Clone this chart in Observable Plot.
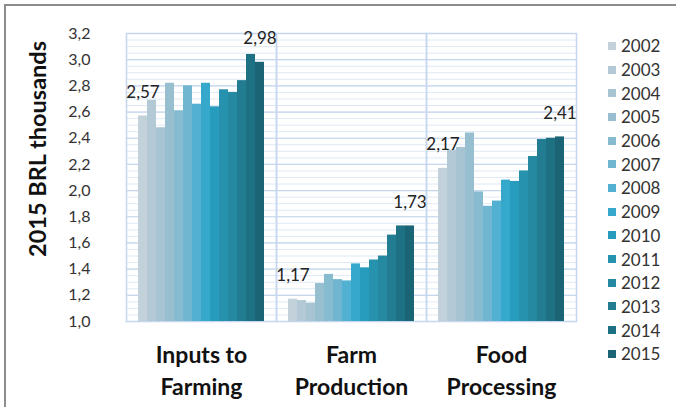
<!DOCTYPE html>
<html>
<head>
<meta charset="utf-8">
<script src="https://cdn.jsdelivr.net/npm/d3@7"></script>
<script src="https://cdn.jsdelivr.net/npm/@observablehq/plot@0.6"></script>
<style>
  body { margin: 0; background: #fff; }
  #chart { position: relative; width: 676px; height: 407px; overflow: hidden; font-family: Lato, "Open Sans", sans-serif; background: #fff; }
  #chart svg { position: absolute; left: 0; top: 0; }
  #border { position: absolute; left: 4px; top: 4px; width: 700px; height: 420px; border-top: 2px solid #8c8c8c; border-left: 2px solid #8c8c8c; pointer-events: none; }
  #ytitle { position: absolute; left: 37px; top: 149px; transform: translate(-50%, -50%) rotate(-90deg); white-space: nowrap; font-weight: bold; font-size: 23.5px; color: #111; }
  #legend { position: absolute; left: 608px; top: 34px; font-size: 17px; color: #333; }
  #legend .row { display: flex; align-items: center; height: 23.7px; }
  #legend .sw { width: 8px; height: 8px; margin-right: 5px; }
</style>
</head>
<body>
<div id="chart">
  <div id="ytitle">2015 BRL thousands</div>
  <div id="legend"></div>
  <div id="border"></div>
</div>
<script>
// Sectors and their two-line captions under each group
const sectors = ["Inputs to Farming", "Farm Production", "Food Processing"];
const sectorCaptions = ["Inputs to\nFarming", "Farm\nProduction", "Food\nProcessing"];

// Years (one bar per year inside each sector)
const years = ["2002", "2003", "2004", "2005", "2006", "2007", "2008",
               "2009", "2010", "2011", "2012", "2013", "2014", "2015"];

// Values, 2015 BRL thousands
const inputsToFarming = [2.57, 2.69, 2.48, 2.82, 2.61, 2.80, 2.66, 2.82, 2.64, 2.77, 2.75, 2.84, 3.04, 2.98];
const farmProduction  = [1.17, 1.16, 1.14, 1.29, 1.36, 1.32, 1.31, 1.44, 1.41, 1.47, 1.50, 1.66, 1.73, 1.73];
const foodProcessing  = [2.17, 2.31, 2.33, 2.44, 1.99, 1.88, 1.92, 2.08, 2.07, 2.15, 2.26, 2.39, 2.40, 2.41];

// Year colours, light grey-blue to dark teal
const yearColors = ["#c3d1da", "#b3cad6", "#a6c4d2", "#97bfd0", "#86bbd0", "#70b6d1", "#52b1d3",
                    "#35a8cb", "#289cbd", "#2792ae", "#2589a1", "#227d92", "#1e7083", "#1a6476"];

// Axis ticks
const yTicks = [1.0, 1.2, 1.4, 1.6, 1.8, 2.0, 2.2, 2.4, 2.6, 2.8, 3.0, 3.2];
const yMinorTicks = d3.range(1.0, 3.2001, 0.05);

const seriesBySector = [inputsToFarming, farmProduction, foodProcessing];
const rows = sectors.flatMap((sector, i) =>
  years.map((year, j) => ({sector, year, value: seriesBySector[i][j]})));
const labelRows = rows.filter(d => d.year === years[0] || d.year === years[years.length - 1]);
const captionRows = sectors.map((sector, i) => ({sector, caption: sectorCaptions[i]}));

const fmt = v => v.toFixed(2).replace(".", ",");
const fmtTick = v => v.toFixed(1).replace(".", ",");

const gridMinor = "#dfe9f5";
const gridMajor = "#c5d7ee";

const chart = Plot.plot({
  width: 676,
  height: 407,
  marginLeft: 126,
  marginRight: 100,
  marginTop: 33,
  marginBottom: 86,
  style: {fontFamily: "Lato, 'Open Sans', sans-serif", fontSize: "16px", color: "#333", background: "transparent"},
  fx: {domain: sectors, padding: 0, axis: null, label: null},
  x: {domain: years, paddingInner: 0, paddingOuter: 0.72, axis: null, label: null},
  y: {domain: [1.0, 3.2], ticks: yTicks, tickFormat: fmtTick, tickSize: 0, tickPadding: 36, label: null},
  color: {domain: years, range: yearColors},
  marks: [
    Plot.ruleY(yMinorTicks, {stroke: gridMinor, strokeWidth: 1}),
    Plot.ruleY(yTicks, {stroke: gridMajor, strokeWidth: 1.2}),
    Plot.frame({stroke: gridMajor, strokeWidth: 1.5}),
    Plot.barY(rows, {fx: "sector", x: "year", y1: 1.0, y2: "value", fill: "year", inset: 0}),
    Plot.text(labelRows, {fx: "sector", x: "year", y: "value", text: d => fmt(d.value),
      lineAnchor: "bottom", dy: -18, fontSize: 17, fill: "#222"}),
    Plot.text(captionRows, {fx: "sector", text: "caption", frameAnchor: "bottom",
      lineAnchor: "middle", dy: 47, lineHeight: 1.38, fontSize: 23, fontWeight: "bold", fill: "#111"})
  ]
});

document.getElementById("chart").prepend(chart);

// Vertical year legend on the right
const legend = document.getElementById("legend");
years.forEach((year, i) => {
  const row = document.createElement("div");
  row.className = "row";
  const sw = document.createElement("span");
  sw.className = "sw";
  sw.style.background = yearColors[i];
  const label = document.createElement("span");
  label.textContent = year;
  row.append(sw, label);
  legend.append(row);
});
</script>
</body>
</html>
